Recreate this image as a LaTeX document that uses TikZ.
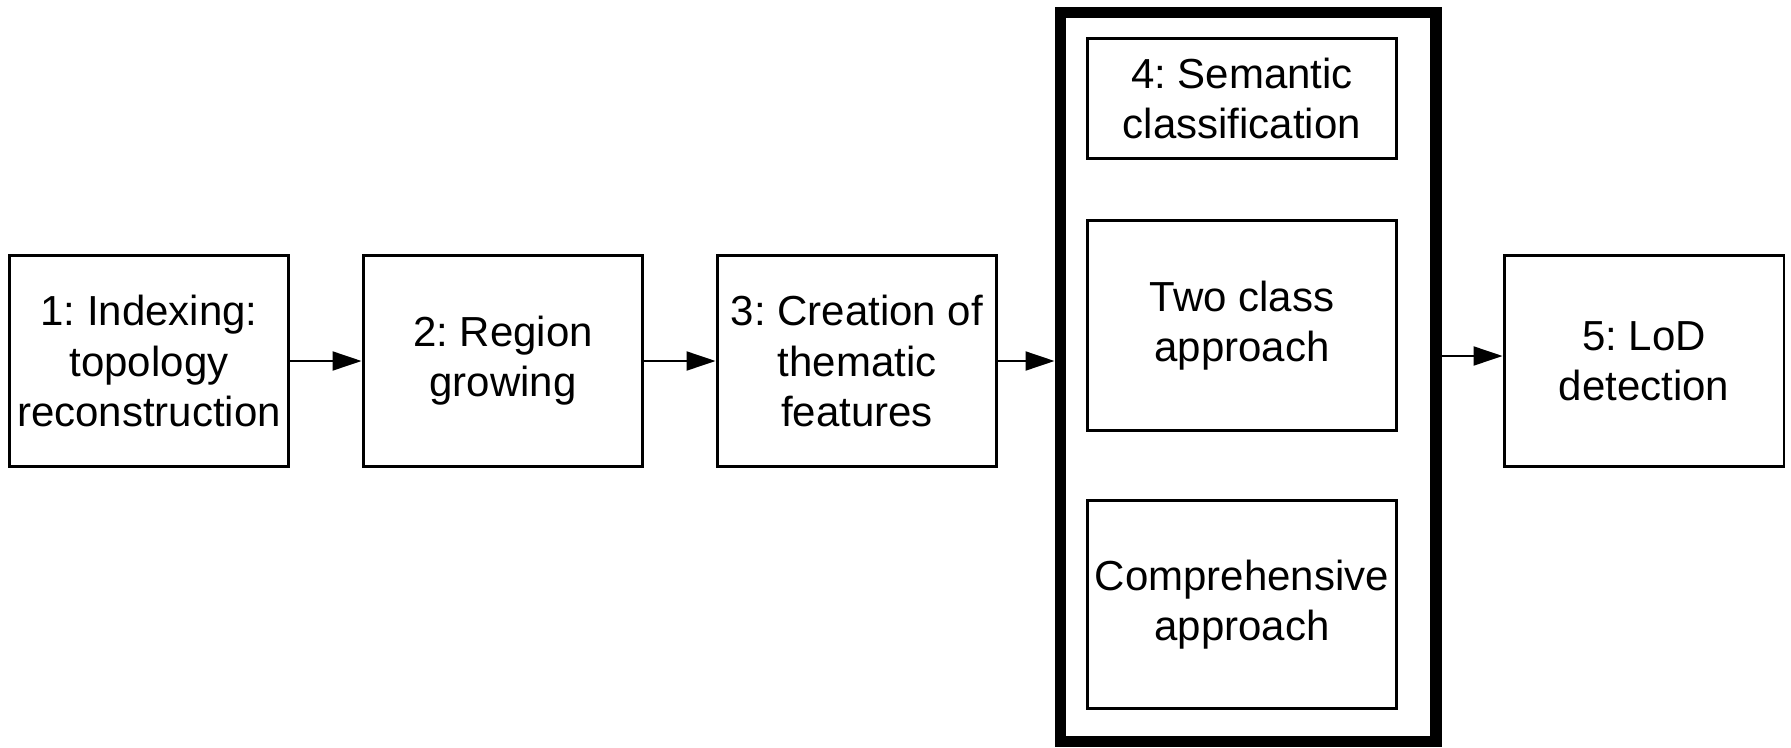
\documentclass[tikz,border=0pt]{standalone}
\usepackage{fontspec}
\setmainfont{Liberation Sans}
\usetikzlibrary{arrows.meta}
\frenchspacing

\begin{document}
\begin{tikzpicture}[x=0.02cm,y=-0.02cm,
  stage/.style={draw,line width=1.7pt,minimum width=5.6cm,minimum height=4.24cm,
    align=center,font=\fontsize{23.9}{28.5}\selectfont},
  substage/.style={stage,minimum width=6.2cm},
  arr/.style={-{Triangle[length=0.58cm,width=0.38cm]},line width=1.1pt}]

\useasboundingbox (0,0) rectangle (1791,747);

% Draw pipeline stages
\node[stage] (idx) at (149,361) {1: Indexing:\\topology\\reconstruction};
\node[stage] (reg) at (503,361) {2: Region\\growing};
\node[stage] (feat) at (857,361) {3: Creation of\\thematic\\features};
\node[stage] (lod) at (1644,361) {5: LoD\\detection};

% Draw classification block
\node[draw,line width=6.3pt,minimum width=7.52cm,minimum height=14.6cm] (cls) at (1248,377) {};
\node[substage,minimum height=2.42cm] (sem) at (1242,98.5) {4: Semantic\\classification};
\node[substage,minimum height=4.22cm] (two) at (1242,325.5) {Two class\\approach};
\node[substage,minimum height=4.18cm] (comp) at (1242,604.5) {Comprehensive\\approach};

% Draw arrows
\draw[arr] (idx) -- (reg);
\draw[arr] (reg) -- (feat);
\draw[arr] (feat.east) -- (feat.east -| cls.west);
\draw[arr] ([yshift=0.1cm]cls.east |- lod.west) -- ([yshift=0.1cm]lod.west);

\end{tikzpicture}
\end{document}
